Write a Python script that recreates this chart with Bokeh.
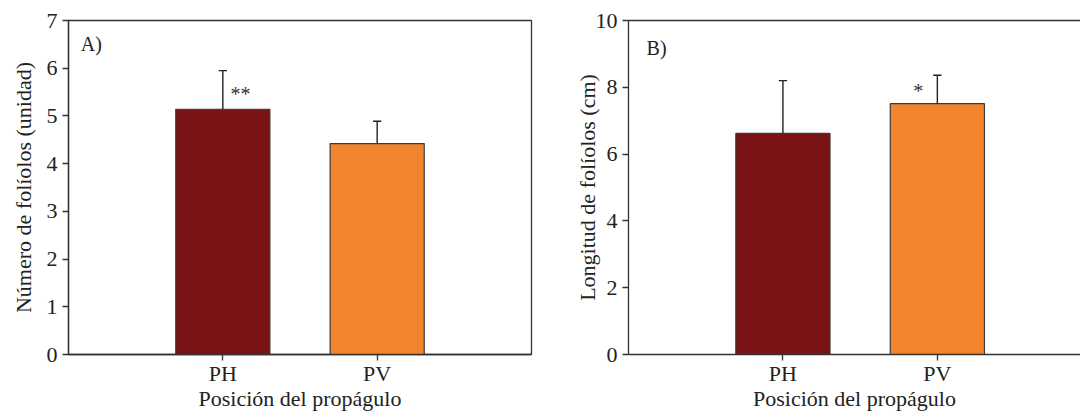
from bokeh.plotting import figure
from bokeh.layouts import row
from bokeh.models import Range1d, FixedTicker, LinearAxis, Label, ColumnDataSource
from bokeh.embed import file_html
from bokeh.resources import INLINE

# ---- data ----
categories = ["PH", "PV"]
cat_pos = [1, 2]
colors = ["#7A1315", "#F3842E"]

leaflets_mean = [5.14, 4.42]
leaflets_upper = [5.95, 4.89]

length_mean = [6.62, 7.51]
length_upper = [8.20, 8.36]

FONT = "Liberation Serif"
AX = "#333333"
TXT = "#222222"


def style(p, ylabel, yticks):
    p.background_fill_color = "white"
    p.border_fill_color = "white"
    p.xgrid.visible = False
    p.ygrid.visible = False
    xa = p.xaxis[0]
    ya = p.yaxis[0]
    xa.ticker = FixedTicker(ticks=cat_pos)
    xa.major_label_overrides = {c: n for c, n in zip(cat_pos, categories)}
    ya.ticker = FixedTicker(ticks=yticks)
    for a in (xa, ya):
        a.axis_line_color = AX
        a.axis_line_width = 1.3
        a.major_tick_line_color = AX
        a.major_tick_line_width = 1.3
        a.major_tick_in = 0
        a.major_tick_out = 6
        a.minor_tick_line_color = None
        a.major_label_text_font = FONT
        a.major_label_text_font_size = "22px"
        a.major_label_text_color = TXT
        a.axis_label_text_font = FONT
        a.axis_label_text_font_size = "22px"
        a.axis_label_text_font_style = "normal"
        a.axis_label_text_color = TXT
    xa.major_label_standoff = 0
    xa.axis_label_standoff = -3
    xa.axis_label = "Posición del propágulo"
    ya.axis_label = ylabel
    ya.major_label_standoff = 5


def draw(p, means, uppers):
    src = ColumnDataSource(dict(x=cat_pos, top=means, up=uppers, color=colors))
    p.vbar(x="x", top="top", width=0.61, bottom=0, fill_color="color",
           line_color="#3a3a3a", line_width=1.2, source=src)
    p.segment(x0="x", y0="top", x1="x", y1="up", line_color=TXT, line_width=1.4, source=src)
    cap = 0.027
    p.segment(x0=[c - cap for c in cat_pos], y0=uppers, x1=[c + cap for c in cat_pos], y1=uppers,
              line_color=TXT, line_width=1.4)


# ---- panel A ----
p1 = figure(width=548, height=416, output_backend="svg", toolbar_location=None,
            x_range=Range1d(0, 3), y_range=Range1d(0, 7),
            min_border_left=68, min_border_right=17, min_border_top=20, min_border_bottom=62)
style(p1, "Número de folíolos (unidad)", [0, 1, 2, 3, 4, 5, 6, 7])
p1.outline_line_color = AX
p1.outline_line_width = 1.3
p1.yaxis[0].axis_label_standoff = 8
draw(p1, leaflets_mean, leaflets_upper)
p1.add_layout(Label(x=0.08, y=6.5, text="A)", text_font=FONT, text_font_size="20px",
                    text_baseline="middle", text_color=TXT))
p1.add_layout(Label(x=1.05, y=5.47, text="**", text_font=FONT, text_font_size="20px",
                    text_baseline="alphabetic", text_color=AX))

# ---- panel B ----
p2 = figure(width=532, height=416, output_backend="svg", toolbar_location=None,
            x_range=Range1d(0, 2.927), y_range=Range1d(0, 10),
            min_border_left=80, min_border_right=0, min_border_top=20, min_border_bottom=62)
style(p2, "Longitud de folíolos (cm)", [0, 2, 4, 6, 8, 10])
p2.outline_line_color = None
p2.yaxis[0].axis_label_standoff = -7
top_axis = LinearAxis(ticker=FixedTicker(ticks=[]), axis_line_color=AX, axis_line_width=1.3,
                      major_tick_line_color=None, minor_tick_line_color=None,
                      major_label_text_font_size="0px")
p2.add_layout(top_axis, "above")
draw(p2, length_mean, length_upper)
p2.add_layout(Label(x=0.117, y=9.19, text="B)", text_font=FONT, text_font_size="20px",
                    text_baseline="middle", text_color=TXT))
p2.add_layout(Label(x=1.877, y=7.90, text="*", text_font=FONT, text_font_size="20px",
                    text_align="center", text_baseline="alphabetic", text_color=AX))

layout = row(p1, p2)
open("out.html", "w").write(file_html(layout, INLINE))
